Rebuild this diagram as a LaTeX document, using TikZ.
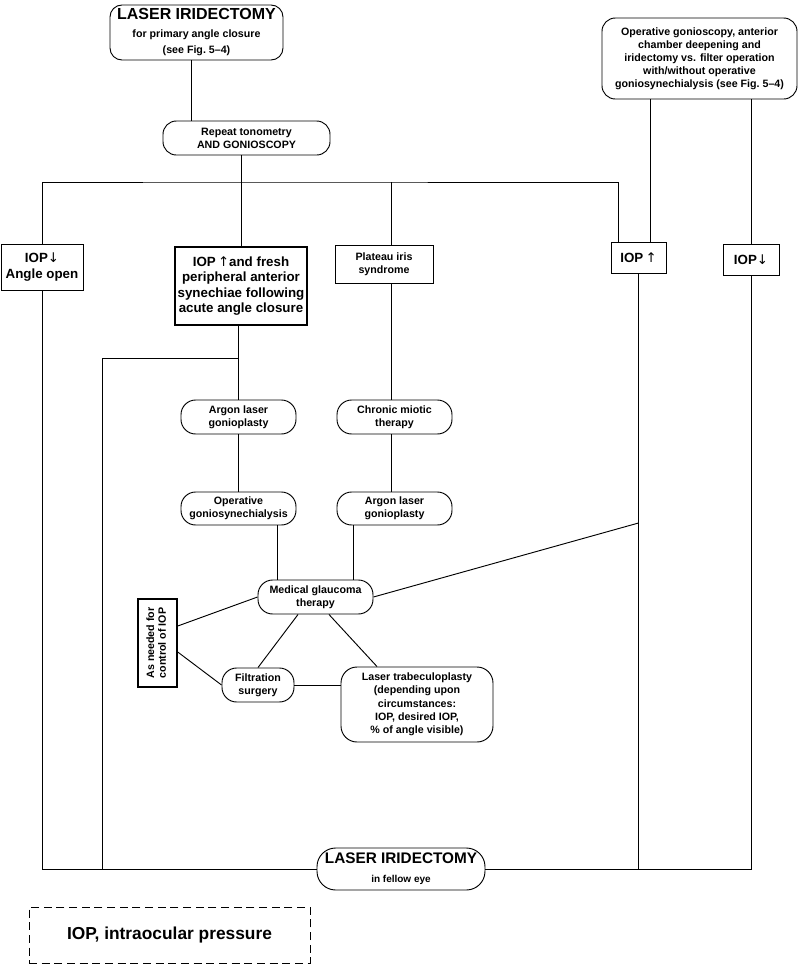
\documentclass[tikz,border=0pt]{standalone}
\usepackage{fontspec}
\usepackage{graphicx}
\setmainfont{Liberation Sans}
\newfontfamily\arrfont{DejaVu Sans}
\newcommand{\upa}{{\arrfont\mdseries ↑}}
\newcommand{\dna}{{\arrfont\mdseries ↓}}
\usetikzlibrary{calc}
\begin{document}
\begin{tikzpicture}[x=0.75pt,y=-0.75pt,line width=0.7pt,
  every node/.style={align=center,inner sep=0pt},
  sm/.style={font=\fontsize{8}{9.8}\selectfont\bfseries},
  md/.style={font=\fontsize{10}{11.5}\selectfont\bfseries},
  rbox/.style={draw,rounded corners=10pt,sm},
  sbox/.style={draw,rectangle,md}]
\path[use as bounding box] (0,0) rectangle (800,965);

% nodes
\node[draw,rounded corners=9pt,minimum width=129.75pt,minimum height=41.25pt] (top) at (196.5,32.5)
  {{\fontsize{12}{13}\selectfont\bfseries LASER IRIDECTOMY}\\[1.5pt]
   {\fontsize{8}{9.2}\selectfont\bfseries for primary angle closure}\\
   {\fontsize{8}{9.2}\selectfont\bfseries (see Fig.~5--4)}};
\node[rbox,minimum width=125.25pt,minimum height=25.5pt] (rep) at (246.5,138)
  {Repeat tonometry\\AND GONIOSCOPY};
\node[rbox,minimum width=146.25pt,minimum height=60.75pt] (opg) at (699.5,58.5)
  {Operative gonioscopy, anterior\\chamber deepening and\\iridectomy vs. filter operation\\with/without operative\\goniosynechialysis (see Fig.~5--4)};

\node[sbox,minimum width=61.5pt,minimum height=34.5pt] (iopdA) at (42,267) {IOP\dna\\Angle open};
\node[sbox,line width=1.1pt,minimum width=99pt,minimum height=58.5pt] (fresh) at (241,286)
  {IOP\,\upa and fresh\\peripheral anterior\\synechiae following\\acute angle closure};
\node[sbox,sm,minimum width=73.5pt,minimum height=28.5pt] (plat) at (384,264) {Plateau iris\\syndrome};
\node[sbox,minimum width=41.25pt,minimum height=23.25pt] (iopU) at (638.5,257.5) {IOP\,\upa};
\node[sbox,minimum width=42pt,minimum height=23.25pt] (iopD) at (751,259.5) {IOP\dna};

\node[rbox,rounded corners=11pt,minimum width=86.25pt,minimum height=25.5pt] (alg1) at (238.5,417) {Argon laser\\gonioplasty};
\node[rbox,rounded corners=11pt,minimum width=86.25pt,minimum height=25.5pt] (cmt) at (394.5,417) {Chronic miotic\\therapy};
\node[rbox,rounded corners=11pt,minimum width=86.25pt,minimum height=24.75pt] (ogs) at (238.5,508.5) {Operative\\goniosynechialysis};
\node[rbox,rounded corners=11pt,minimum width=86.25pt,minimum height=24.75pt] (alg2) at (394.5,508.5) {Argon laser\\gonioplasty};

\node[rbox,rounded corners=11pt,minimum width=86.25pt,minimum height=25.5pt] (med) at (315.5,597) {Medical glaucoma\\therapy};
\node[draw,line width=1.1pt,minimum width=29.25pt,minimum height=66pt,sm] (asn) at (157.5,643)
  {\rotatebox{90}{\begin{tabular}{@{}c@{}}As needed for\\[-1pt]control of IOP\end{tabular}}};
\node[rbox,rounded corners=11pt,minimum width=54pt,minimum height=25.5pt] (fil) at (258,685) {Filtration\\surgery};
\node[rbox,rounded corners=12pt,minimum width=114pt,minimum height=56.25pt,font=\fontsize{8}{10}\selectfont\bfseries] (ltr) at (417,704.5)
  {Laser trabeculoplasty\\(depending upon\\circumstances:\\IOP, desired IOP,\\\%~of angle visible)};

\node[draw,rounded corners=14pt,minimum width=126pt,minimum height=31.5pt] (bot) at (401,869)
  {{\fontsize{11.5}{12.5}\selectfont\bfseries LASER IRIDECTOMY}\\[2pt]
   {\fontsize{7.5}{8.5}\selectfont\bfseries in fellow eye}};

\node[draw,line width=0.6pt,dash pattern=on 6pt off 3.5pt,minimum width=210.75pt,minimum height=42pt,
  font=\fontsize{13}{15}\selectfont\bfseries] (leg) at (169.5,935) {IOP, intraocular pressure};

% connectors
\coordinate (jb) at (241,182);
\coordinate (jl) at (238.5,358);
\coordinate (jlb) at (102,869);
\coordinate (jr) at (638.5,523);

\draw ([xshift=-4.1pt]top.south) -- ([xshift=-4.1pt]top.south |- rep.north);
\draw (fresh.north |- rep.south) -- (fresh.north);
\draw (iopdA.north) |- (jb) -| ([xshift=-15.4pt]iopU.north);
\draw ([xshift=5.25pt]plat.north) -- ([xshift=5.25pt]plat.north |- jb);
\draw ([xshift=8.6pt]iopU.north) -- ([xshift=8.6pt]iopU.north |- opg.south);
\draw (iopD.north) -- (iopD.north |- opg.south);
\draw (iopdA.south) |- (bot.west);
\draw (iopU.south) |- (bot.east);
\draw (iopD.south) |- (bot.east);
\draw (alg1.north |- fresh.south) -- (alg1.north);
\draw (jl) -| (jlb);
\draw (alg1) -- (ogs);
\draw ([xshift=-2.6pt]cmt.north |- plat.south) -- ([xshift=-2.6pt]cmt.north);
\draw ([xshift=-2.6pt]cmt.south) -- ([xshift=-2.6pt]alg2.north);
\draw ([xshift=-28.9pt]med.north |- ogs.south) -- ([xshift=-28.9pt]med.north);
\draw ([xshift=28.1pt]med.north |- alg2.south) -- ([xshift=28.1pt]med.north);
\draw (med.east) -- (jr);
\draw ([yshift=12.75pt]asn.east) -- (med.west);
\draw ([yshift=-6.75pt]asn.east) -- (fil.west);
\draw ([xshift=-13.1pt]med.south) -- (fil.north);
\draw ([xshift=10.1pt]med.south) -- ([xshift=-30pt]ltr.north);
\draw (fil.east) -- (fil.east -| ltr.west);
\end{tikzpicture}
\end{document}
